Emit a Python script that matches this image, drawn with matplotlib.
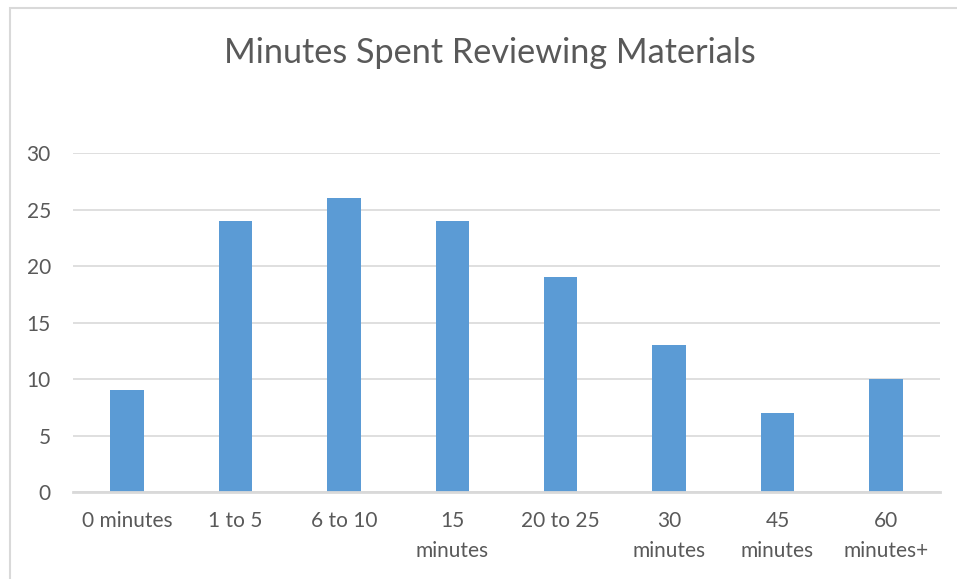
import matplotlib.pyplot as plt
from matplotlib.patches import Rectangle

categories = ["0 minutes", "1 to 5", "6 to 10", "15\nminutes", "20 to 25",
              "30\nminutes", "45\nminutes", "60\nminutes+"]
values = [9, 24, 26, 24, 19, 13, 7, 10]
yticks = [0, 5, 10, 15, 20, 25, 30]

plt.rcParams["font.family"] = ["Lato", "DejaVu Sans"]

W, H = 957, 579
fig = plt.figure(figsize=(W / 100, H / 100), dpi=100)

# outer chart border (only left and top are visible in the crop)
fig.add_artist(Rectangle((10 / W, -0.1), 1.2, (H - 8) / H + 0.1,
                         transform=fig.transFigure, fill=False,
                         edgecolor="#D9D9D9", linewidth=1.5))

left, right, bottom, top = 73, 940, 492, 153
ax = fig.add_axes([left / W, 1 - bottom / H, (right - left) / W, (bottom - top) / H])

x = range(len(categories))
ax.bar(x, values, width=0.31, color="#5B9BD5", zorder=3)

ax.set_xlim(-0.5, len(categories) - 0.5)
ax.set_ylim(0, 30)
ax.set_yticks(yticks)
ax.set_xticks(list(x))
ax.set_xticklabels(categories, linespacing=1.6)
ax.yaxis.grid(True, color="#D9D9D9", linewidth=1.2, zorder=0)
ax.tick_params(axis="both", length=0, labelsize=15, colors="#595959")
ax.tick_params(axis="y", pad=16)
ax.tick_params(axis="x", pad=14)
for s in ["top", "right", "left"]:
    ax.spines[s].set_visible(False)
ax.spines["bottom"].set_color("#D9D9D9")
ax.spines["bottom"].set_linewidth(2)
ax.spines["bottom"].set_zorder(4)

fig.text(490 / W, 1 - 53 / H, "Minutes Spent Reviewing Materials",
         ha="center", va="center", fontsize=24.7, color="#595959")

fig.savefig("out.png", dpi=100, facecolor="white")
